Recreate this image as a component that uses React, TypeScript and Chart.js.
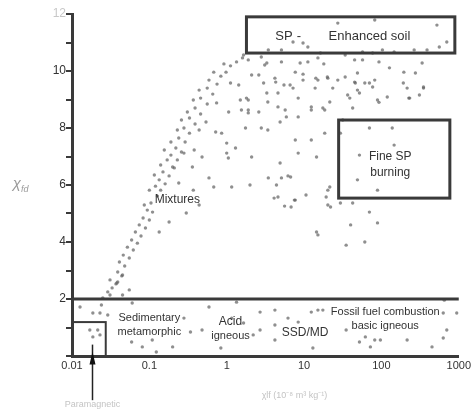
import React, { useEffect, useRef } from 'react';
import { Chart, registerables } from 'chart.js';

Chart.register(...registerables);

const X_MIN = 0.01;
const X_MAX = 1000;
const Y_MIN = 0;
const Y_MAX = 12;
const X_TICKS = [0.01, 0.1, 1, 10, 100, 1000];
const X_TICK_LABELS = ['0.01', '0.1', '1', '10', '100', '1000'];
const Y_LABELLED = [2, 4, 6, 8, 10, 12];
const BAND_TOP = 2;

const ARM_POINTS: [number, number][] = [
  [0.025, 2.04], [0.029, 2.25], [0.033, 2.39], [0.031, 2.67], [0.037, 2.53], [0.039, 2.95], [0.044, 2.81],
  [0.041, 3.3], [0.048, 3.16], [0.046, 3.54], [0.055, 3.44], [0.052, 3.82], [0.062, 3.72], [0.059, 4.07],
  [0.07, 3.96], [0.066, 4.35], [0.078, 4.21], [0.074, 4.6], [0.089, 4.49], [0.083, 4.84], [0.1, 4.77],
  [0.094, 5.12], [0.11, 5.05], [0.105, 5.37], [0.086, 5.3], [0.127, 5.61], [0.1, 5.82], [0.12, 5.96],
  [0.14, 5.82], [0.134, 6.18], [0.16, 6.04], [0.116, 6.35], [0.15, 6.46], [0.18, 6.32], [0.14, 6.7],
  [0.17, 6.88], [0.21, 6.6], [0.19, 7.05], [0.23, 6.88], [0.156, 7.23], [0.22, 7.3], [0.26, 7.16],
  [0.19, 7.51], [0.24, 7.65], [0.29, 7.51], [0.23, 7.93], [0.28, 8.0], [0.33, 7.82], [0.26, 8.28],
  [0.33, 8.35], [0.39, 8.14], [0.31, 8.56], [0.39, 8.7], [0.46, 8.49], [0.37, 8.98], [0.46, 9.05],
  [0.56, 8.84], [0.44, 9.33], [0.56, 9.4], [0.66, 9.19], [0.59, 9.68], [0.75, 9.54], [0.84, 9.82],
  [0.68, 9.96], [0.98, 9.96], [1.12, 10.18], [0.92, 10.25], [1.34, 10.32], [1.6, 10.46], [1.9, 10.39],
  [0.038, 2.56], [0.031, 2.14], [0.045, 2.14], [0.055, 2.32], [0.045, 2.84], [0.039, 2.6],
];

const INNER_POINTS: [number, number][] = [
  [0.24, 6.07], [0.37, 5.82], [0.59, 6.25], [0.68, 5.93], [1.16, 5.93], [2.0, 6.0], [0.3, 5.02],
  [0.44, 5.3], [0.18, 4.7], [0.134, 4.35], [0.44, 7.93], [0.72, 7.86], [0.86, 7.82], [1.0, 7.47],
  [1.3, 7.3], [1.75, 8.0], [1.9, 8.53], [1.55, 8.63], [1.5, 8.98], [1.8, 9.05], [1.06, 8.56],
  [0.74, 8.88], [0.54, 8.21], [0.48, 6.98], [1.0, 7.12], [1.05, 6.95], [2.1, 6.98], [2.8, 8.0],
  [3.4, 7.93], [4.9, 8.21], [4.9, 6.77], [6.7, 6.28], [0.38, 7.23], [0.36, 6.63], [0.28, 7.12],
  [0.2, 6.63], [4.6, 5.58], [7.7, 5.47], [10.6, 5.65], [6.8, 5.23], [14.5, 4.35], [19.3, 5.58],
  [22, 5.23], [13.9, 9.4], [9.7, 9.68], [12.4, 8.63], [18.5, 8.63], [18.5, 7.82], [8.4, 7.12],
  [14.5, 6.98], [7.7, 7.58], [4.6, 9.23], [3.3, 9.23], [3.0, 9.58], [2.1, 9.86], [1.43, 9.51],
  [1.12, 9.58], [4.4, 6.0], [6.2, 6.32], [4.1, 5.54], [5.6, 5.26], [7.5, 5.47], [20.3, 5.82],
  [15.1, 4.25], [3.45, 6.25], [5.1, 6.25], [12.4, 7.58], [31.6, 8.28], [8.4, 8.39], [5.9, 8.39],
  [2.6, 8.56], [3.4, 8.91], [8.4, 9.05],
];

const PLATEAU_POINTS: [number, number][] = [
  [3.3, 10.28], [5.1, 10.32], [11.2, 10.32], [18, 10.25], [9.7, 9.89], [2.6, 9.86], [4.3, 9.61],
  [5.5, 9.51], [7.2, 9.4], [15.1, 9.68], [3.1, 10.21], [8.9, 10.28], [15.1, 10.46], [45, 10.39],
  [57, 10.39], [93, 10.32], [127, 10.11], [195, 9.96], [275, 9.93], [336, 10.28], [215, 9.4],
  [350, 9.4], [226, 9.05], [310, 9.16], [119, 9.09], [89, 8.98], [49, 9.33], [46, 9.58], [34, 9.79],
  [20.3, 9.75], [12.4, 8.74], [17.5, 8.7], [36.6, 9.16], [42.5, 8.7], [61, 9.58], [82, 9.68],
  [27.3, 9.68], [14.2, 9.75], [7.7, 9.96], [6.6, 9.51], [4.2, 9.75], [1.9, 8.98], [1.9, 8.63],
  [4.6, 8.74], [5.7, 8.63], [49, 9.93], [45, 9.61], [70, 9.58], [77, 9.44], [192, 9.58], [350, 9.44],
  [232, 9.05], [93, 8.9], [52, 9.23], [39, 9.05], [23.5, 9.4], [21.5, 8.91], [20, 9.79],
];

const TOP_POINTS: [number, number][] = [
  [27.3, 11.68], [82, 11.79], [522, 11.61], [700, 11.02], [560, 10.84], [9.7, 10.98], [7.2, 11.02],
  [11.2, 10.84], [3.45, 10.74], [5.1, 10.74], [16.3, 10.63], [34, 10.56], [57, 10.67], [77, 10.63],
  [103, 10.74], [146, 10.67], [265, 10.74], [389, 10.74], [2.8, 10.49], [1.65, 10.56],
];

const TAIL_POINTS: [number, number][] = [
  [70, 8.0], [138, 8.0], [146, 7.4], [52, 7.05], [29.5, 7.82], [49, 6.18], [89, 5.82], [29.5, 5.37],
  [42.5, 5.37], [70, 5.05], [89, 4.67], [40, 4.6], [61, 4.0], [35, 3.89], [20.3, 5.3], [21.5, 5.93],
];

const BAND_POINTS: [number, number][] = [
  [0.0127, 1.72], [0.024, 1.79], [0.0186, 1.51], [0.023, 1.51], [0.029, 1.44], [0.017, 0.91],
  [0.0215, 0.91], [0.023, 0.74], [0.0186, 0.67], [0.06, 1.86], [0.059, 0.49], [0.081, 0.32],
  [0.109, 0.56], [0.123, 0.14], [0.2, 0.32], [0.28, 1.33], [0.34, 0.84], [0.59, 1.72], [0.48, 0.91],
  [0.84, 0.28], [1.16, 1.33], [1.34, 1.89], [2.7, 1.54], [4.2, 1.61], [6.2, 1.33], [1.65, 1.16],
  [2.7, 0.91], [2.2, 0.74], [4.2, 1.09], [4.2, 0.56], [8.4, 1.19], [13, 0.28], [12.4, 1.54],
  [15.1, 1.61], [17.5, 1.61], [35, 0.91], [52, 0.49], [62, 0.67], [82, 0.56], [97, 0.56], [72, 0.32],
  [215, 0.56], [451, 0.32], [630, 0.63], [700, 0.91], [630, 1.51], [942, 1.51], [650, 1.96],
];

const BOXES = [
  { x0: 1.8, x1: 890, y0: 10.63, y1: 11.9, w: 3 },
  { x0: 28, x1: 767, y0: 5.54, y1: 8.28, w: 3 },
  { x0: 0.01, x1: 0.0273, y0: 0, y1: 1.19, w: 2 },
];

const LABELS = [
  { text: 'SP', x: 5.5, y: 11.2, size: 13 },
  { text: '-', x: 8.6, y: 11.2, size: 13 },
  { text: 'Enhanced soil', x: 70, y: 11.2, size: 13 },
  { text: 'Fine SP', x: 130, y: 6.98, size: 12 },
  { text: 'burning', x: 130, y: 6.42, size: 12 },
  { text: 'Mixtures', x: 0.23, y: 5.47, size: 12 },
  { text: 'Sedimentary', x: 0.1, y: 1.33, size: 11 },
  { text: 'metamorphic', x: 0.1, y: 0.86, size: 11 },
  { text: 'Acid', x: 1.12, y: 1.19, size: 12 },
  { text: 'igneous', x: 1.12, y: 0.72, size: 11 },
  { text: 'SSD/MD', x: 10.3, y: 0.81, size: 12 },
  { text: 'Fossil fuel combustion', x: 112, y: 1.54, size: 11 },
  { text: 'basic igneous', x: 112, y: 1.05, size: 11 },
];

const ARROW_X = 0.018;
const FONT = "'Liberation Sans', Arial, sans-serif";

const annotations = {
  id: 'annotations',
  afterDatasetsDraw(chart: any) {
    const { ctx, scales } = chart;
    const xs = scales.x;
    const ys = scales.y;
    const px = (v: number) => xs.getPixelForValue(v);
    const py = (v: number) => ys.getPixelForValue(v);
    ctx.save();
    ctx.strokeStyle = '#3a3a3a';
    ctx.lineWidth = 3;
    ctx.beginPath();
    ctx.moveTo(px(X_MIN), py(BAND_TOP));
    ctx.lineTo(px(X_MAX), py(BAND_TOP));
    ctx.stroke();

    for (const b of BOXES) {
      ctx.lineWidth = b.w;
      ctx.strokeRect(px(b.x0), py(b.y1), px(b.x1) - px(b.x0), py(b.y0) - py(b.y1));
    }

    ctx.fillStyle = '#333';
    ctx.textAlign = 'center';
    ctx.textBaseline = 'middle';
    for (const l of LABELS) {
      ctx.font = `${l.size}px ${FONT}`;
      ctx.fillText(l.text, px(l.x), py(l.y));
    }

    // arrow
    const ax = Math.round(px(ARROW_X)) + 0.5;
    ctx.strokeStyle = '#222';
    ctx.lineWidth = 1.5;
    ctx.beginPath();
    ctx.moveTo(ax, py(-1.55));
    ctx.lineTo(ax, py(0.4));
    ctx.stroke();
    ctx.fillStyle = '#111';
    ctx.beginPath();
    ctx.moveTo(ax, py(0.15));
    ctx.lineTo(ax - 3, py(-0.3));
    ctx.lineTo(ax + 3, py(-0.3));
    ctx.closePath();
    ctx.fill();

    // faint titles
    ctx.fillStyle = '#c4c4c4';
    ctx.font = `9px ${FONT}`;
    ctx.fillText('Paramagnetic', ax, py(-1.7));
    ctx.fillText('\u03c7lf (10\u207b\u2078 m\u00b3 kg\u207b\u00b9)', px(7.5), py(-1.37));

    ctx.fillStyle = '#9a9a9a';
    ctx.font = `italic 15px ${FONT}`;
    ctx.textAlign = 'right';
    ctx.fillText('\u03c7', 21, py(6.05));
    ctx.font = `italic 9px ${FONT}`;
    ctx.textAlign = 'left';
    ctx.fillText('fd', 21, py(5.85));
    ctx.restore();
  },
};

export default function App() {
  const ref = useRef<HTMLCanvasElement | null>(null);
  useEffect(() => {
    document.body.style.margin = '0';
    const all = [...ARM_POINTS, ...INNER_POINTS, ...PLATEAU_POINTS, ...TOP_POINTS, ...TAIL_POINTS, ...BAND_POINTS];
    const chart = new Chart(ref.current as HTMLCanvasElement, {
      type: 'scatter',
      data: {
        datasets: [
          {
            data: all.map(([x, y]) => ({ x, y })),
            pointRadius: 1.7,
            pointBackgroundColor: 'rgba(95,95,95,0.7)',
            pointBorderWidth: 0,
          },
        ],
      },
      options: {
        animation: false,
        responsive: false,
        devicePixelRatio: 1,
        layout: { padding: { top: 14, right: 12, bottom: 0, left: 0 } },
        plugins: { legend: { display: false }, tooltip: { enabled: false } },
        scales: {
          x: {
            type: 'logarithmic',
            min: X_MIN,
            max: X_MAX,
            afterBuildTicks: (s: any) => {
              s.ticks = X_TICKS.map((v) => ({ value: v }));
            },
            afterFit: (s: any) => {
              s.height = 58;
            },
            grid: { display: false, drawTicks: false, tickLength: 0 },
            border: { display: true, width: 3, color: '#3a3a3a' },
            ticks: {
              autoSkip: false,
              maxRotation: 0,
              padding: 3,
              color: '#333',
              font: { family: FONT, size: 11 },
              callback: (v: any) => {
                const i = X_TICKS.indexOf(Number(v));
                return i >= 0 ? X_TICK_LABELS[i] : '';
              },
            },
          },
          y: {
            type: 'linear',
            min: Y_MIN,
            max: Y_MAX,
            afterFit: (s: any) => {
              s.width = 72;
            },
            grid: { display: true, drawOnChartArea: false, drawTicks: true, tickLength: 6, lineWidth: 2, color: '#3a3a3a' },
            border: { display: true, width: 3, color: '#3a3a3a' },
            ticks: {
              stepSize: 1,
              autoSkip: false,
              padding: 0,
              color: (c: any) => (c.tick && c.tick.value === 12 ? '#c8c8c8' : '#333'),
              font: { family: FONT, size: 12 },
              callback: (v: any) => (Y_LABELLED.includes(Number(v)) ? String(v) : ''),
            },
          },
        },
      },
      plugins: [annotations],
    });
    return () => chart.destroy();
  }, []);
  return (
    <div style={{ position: 'fixed', left: 0, top: 0, width: 474, height: 414, background: '#fff' }}>
      <canvas ref={ref} width={474} height={414} style={{ filter: 'blur(0.5px)' }} />
    </div>
  );
}
